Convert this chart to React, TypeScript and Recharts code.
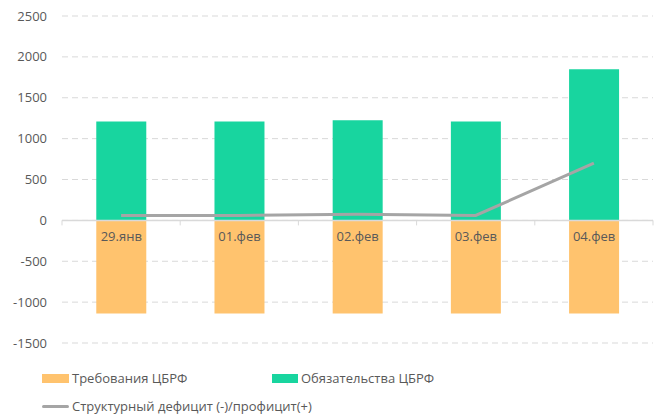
import { ComposedChart, Bar, Line, XAxis, YAxis, CartesianGrid, ReferenceLine, LabelList } from 'recharts';

const dates = ['29.янв', '01.фев', '02.фев', '03.фев', '04.фев'];
const claims = [-1140, -1140, -1140, -1140, -1140];
const liabilities = [1210, 1210, 1225, 1210, 1850];
const balance = [60, 60, 75, 60, 700];
const yTicks = [-1500, -1000, -500, 0, 500, 1000, 1500, 2000, 2500];

const ORANGE = '#FFC36E';
const GREEN = '#18D59F';
const GREY = '#A5A5A5';
const TEXT = '#595959';
const AXIS = '#D9D9D9';
const FONT = '"Open Sans", "Noto Sans", sans-serif';

const data = dates.map((d, i) => ({
  name: d,
  claims: claims[i],
  liabilities: liabilities[i],
  balance: balance[i],
}));

// zero line with small tick marks between the categories
function ZeroAxis(props: any) {
  const { x1, x2, y1 } = props;
  const step = (x2 - x1) / dates.length;
  const marks = [];
  for (let i = 0; i <= dates.length; i++) {
    const x = x1 + step * i;
    marks.push(<line key={i} x1={x} x2={x} y1={y1} y2={y1 + 5} stroke={AXIS} strokeWidth={1} />);
  }
  return (
    <g>
      <line x1={x1} x2={x2} y1={y1} y2={y1} stroke={AXIS} strokeWidth={1.5} />
      {marks}
    </g>
  );
}

function App() {
  return (
    <div style={{ position: 'absolute', left: 0, top: 0, width: 656, height: 414, background: '#fff', fontFamily: FONT }}>
      <ComposedChart
        width={656}
        height={360}
        data={data}
        stackOffset="sign"
        barCategoryGap="29%"
        margin={{ top: 16, right: 3, bottom: 17, left: 0 }}
      >
        <CartesianGrid vertical={false} stroke={AXIS} strokeDasharray="6 4" />
        <XAxis dataKey="name" hide />
        <YAxis
          domain={[-1500, 2500]}
          ticks={yTicks}
          width={62}
          axisLine={false}
          tickLine={false}
          tickMargin={9}
          tick={{ fill: TEXT, fontSize: 13, fontFamily: FONT }}
        />
        <Bar dataKey="claims" stackId="a" fill={ORANGE} isAnimationActive={false} />
        <Bar dataKey="liabilities" stackId="a" fill={GREEN} isAnimationActive={false}>
          <LabelList dataKey="name" position="bottom" offset={11} fill={TEXT} fontSize={13} fontFamily={FONT} />
        </Bar>
        <ReferenceLine y={0} shape={<ZeroAxis />} />
        <Line dataKey="balance" type="linear" stroke={GREY} strokeWidth={3} dot={false} isAnimationActive={false} />
      </ComposedChart>
      <div style={{ position: 'absolute', left: 42, top: 369, fontSize: 13, color: TEXT, display: 'flex', alignItems: 'center' }}>
        <span style={{ display: 'inline-block', width: 27, height: 9, background: ORANGE, marginRight: 3 }} />
        <span>Требования ЦБРФ</span>
      </div>
      <div style={{ position: 'absolute', left: 272, top: 369, fontSize: 13, color: TEXT, display: 'flex', alignItems: 'center' }}>
        <span style={{ display: 'inline-block', width: 26, height: 9, background: GREEN, marginRight: 3 }} />
        <span>Обязательства ЦБРФ</span>
      </div>
      <div style={{ position: 'absolute', left: 42, top: 397, fontSize: 13, color: TEXT, display: 'flex', alignItems: 'center' }}>
        <span style={{ display: 'inline-block', width: 27, height: 3, background: GREY, borderRadius: 2, marginRight: 3 }} />
        <span>Структурный дефицит (-)/профицит(+)</span>
      </div>
    </div>
  );
}

export default App;
